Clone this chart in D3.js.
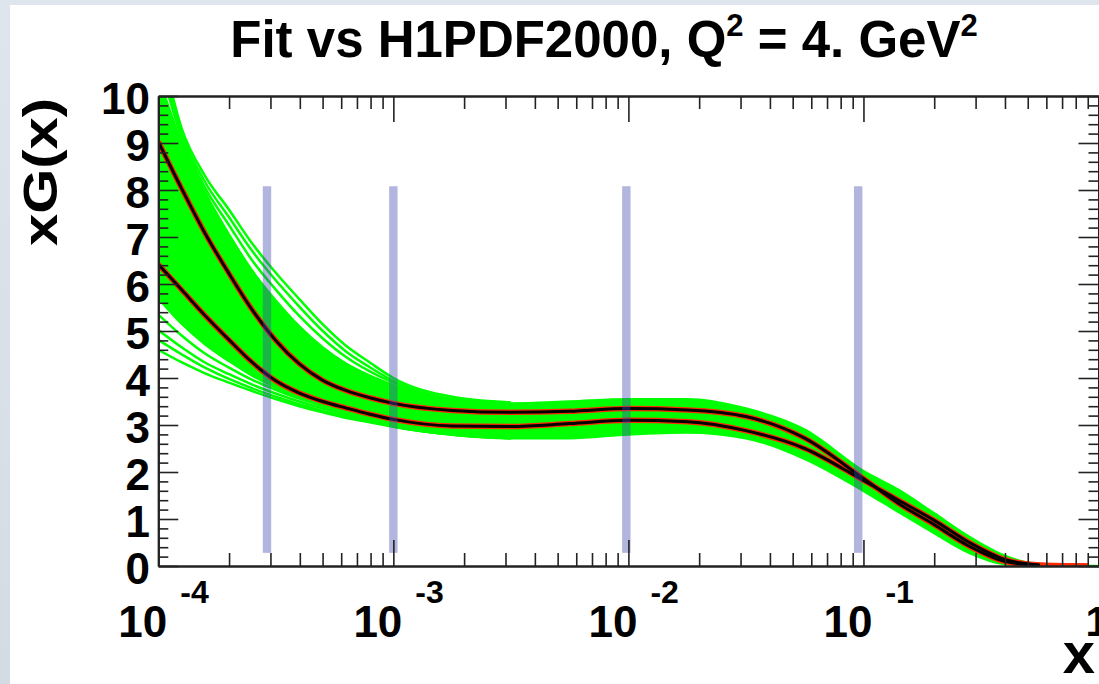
<!DOCTYPE html>
<html><head><meta charset="utf-8">
<script src="https://cdn.jsdelivr.net/npm/d3@7"></script>
<style>html,body{margin:0;padding:0;background:#fff;}svg{display:block;}</style>
</head><body>
<svg id="c" width="1099" height="684"></svg>
<script>
// ---------------- data ----------------
const xGrid = [1e-4, 1.26e-4, 1.58e-4, 2.0e-4, 2.51e-4, 3.16e-4, 3.98e-4, 5.01e-4, 6.31e-4, 7.94e-4,
               1e-3, 1.78e-3, 3.16e-3, 5.62e-3, 1e-2, 1.78e-2, 3.16e-2, 5.62e-2, 0.1, 0.141, 0.2, 0.282, 0.398, 0.562, 0.794, 1.0];
// central fit curves (black) and H1PDF2000 curves (red)
const fitUpper = [9.03, 8.02, 7.08, 6.22, 5.45, 4.80, 4.30, 3.95, 3.73, 3.58, 3.46, 3.31, 3.27, 3.29, 3.35, 3.32, 3.18, 2.72, 1.86, 1.33, 0.88, 0.42, 0.10, 0.01, 0, 0];
const fitLower = [6.42, 5.87, 5.33, 4.81, 4.33, 3.94, 3.68, 3.50, 3.36, 3.23, 3.12, 2.98, 2.97, 3.03, 3.10, 3.07, 2.88, 2.50, 1.82, 1.40, 0.97, 0.50, 0.14, 0.02, 0, 0];
const h1Upper = fitUpper.slice();
const h1Lower = fitLower.slice();
// envelope of the dense bundle of replica curves (green)
const bandTop    = [10.4, 9.0, 7.95, 7.05, 6.28, 5.65, 5.10, 4.65, 4.30, 4.05, 3.85, 3.50, 3.46, 3.50, 3.55, 3.55, 3.35, 2.90, 2.02, 1.62, 1.12, 0.62, 0.22, 0.03, 0, 0];
const bandBottom = [5.70, 5.15, 4.72, 4.36, 4.05, 3.80, 3.60, 3.42, 3.28, 3.17, 3.00, 2.80, 2.72, 2.72, 2.80, 2.84, 2.72, 2.28, 1.60, 1.15, 0.70, 0.28, 0.04, 0, 0, 0];
// individual replica curves outside the dense bundle (low-x fan)
const xFan = [1e-4, 1.26e-4, 1.58e-4, 2.0e-4, 2.51e-4, 3.16e-4, 3.98e-4, 5.01e-4, 6.31e-4, 7.94e-4, 1e-3, 1.78e-3, 3.16e-3];
const fanUp1 = [11.3, 9.3, 8.30, 7.58, 6.86, 6.24, 5.68, 5.14, 4.68, 4.33, 4.00, 3.60, 3.48];
const fanUp2 = [11.0, 9.2, 8.17, 7.42, 6.70, 6.08, 5.52, 5.00, 4.56, 4.23, 3.94, 3.56, 3.47];
const fanUp3 = [10.8, 9.1, 8.05, 7.25, 6.50, 5.88, 5.32, 4.84, 4.44, 4.14, 3.90, 3.53, 3.46];
const fanLo1 = [5.35, 4.90, 4.52, 4.22, 3.96, 3.75, 3.56, 3.40, 3.26, 3.15, 3.00, 2.82, 2.73];
const fanLo2 = [5.02, 4.65, 4.33, 4.08, 3.86, 3.67, 3.50, 3.35, 3.22, 3.12, 2.98, 2.80, 2.72];
const fanLo3 = [4.81, 4.50, 4.22, 3.98, 3.78, 3.60, 3.44, 3.30, 3.18, 3.09, 2.97, 2.80, 2.72];
const fanLo4 = [4.60, 4.33, 4.10, 3.90, 3.72, 3.55, 3.40, 3.27, 3.15, 3.06, 2.96, 2.79, 2.72];
// vertical markers
const markerX = [2.9e-4, 1.0e-3, 0.0098, 0.095];
const markerRange = [0.28, 8.08];
// axes
const yTicks = [0,1,2,3,4,5,6,7,8,9,10];
const yTickLabels = ["0","1","2","3","4","5","6","7","8","9","10"];
const xDecades = [1e-4, 1e-3, 1e-2, 1e-1];
const xExponents = ["-4","-3","-2","-1"];
const titleParts = ["Fit vs H1PDF2000, Q", "2", " = 4. GeV", "2"];

// ---------------- drawing ----------------
const svg = d3.select("#c");
const W = 1099, H = 684;
const L = 158.3, R = 1098.5, T = 96, B = 566;
const x = d3.scaleLog().domain([1e-4, 1]).range([L, R]);
const y = d3.scaleLinear().domain([0, 10]).range([B, T]);

// slide background
const defs = svg.append("defs");
const lg = defs.append("linearGradient").attr("id","bg").attr("x1","0").attr("y1","0").attr("x2","0").attr("y2","1");
lg.append("stop").attr("offset","0").attr("stop-color","#dfe5ec");
lg.append("stop").attr("offset","1").attr("stop-color","#d3dbe4");
svg.append("rect").attr("width",W).attr("height",H).attr("fill","url(#bg)");
svg.append("rect").attr("x",10).attr("y",5).attr("width",W-10).attr("height",H-5).attr("fill","#fff");

defs.append("clipPath").attr("id","clip").append("rect")
  .attr("x",L).attr("y",T).attr("width",R-L).attr("height",B-T);

const plot = svg.append("g").attr("clip-path","url(#clip)");
const line = (xs) => d3.line().x((d,i)=>x(xs[i])).y(d=>y(d)).curve(d3.curveMonotoneX);
const area = d3.area().x((d,i)=>x(xGrid[i])).y0((d,i)=>y(bandBottom[i])).y1(d=>y(d)).curve(d3.curveMonotoneX);

const GREEN = "#00ff00";
plot.append("path").datum(bandTop).attr("d", area).attr("fill", GREEN).attr("stroke", GREEN).attr("stroke-width", 2.5);
[fanUp1, fanUp2, fanUp3, fanLo1, fanLo2, fanLo3, fanLo4].forEach(s => {
  plot.append("path").datum(s).attr("d", line(xFan)).attr("fill","none").attr("stroke",GREEN).attr("stroke-width",2.5);
});

// red H1PDF2000 curves (extend to the full range), black fit curves on top
const xRed = xGrid.slice(0,25).map((v,i)=> i===24 ? 0.9 : v);
[h1Upper, h1Lower].forEach(s => {
  plot.append("path").datum(s.slice(0, 25)).attr("d", line(xRed))
    .attr("fill","none").attr("stroke","#ff2a00").attr("stroke-width",5.5);
});
[fitUpper, fitLower].forEach(s => {
  plot.append("path").datum(s.slice(0, 24)).attr("d", line(xGrid))
    .attr("fill","none").attr("stroke","#000").attr("stroke-width",3);
});

// translucent markers
plot.selectAll("rect.mk").data(markerX).join("rect").attr("class","mk")
  .attr("x", d => x(d) - 4.2).attr("width", 8.4)
  .attr("y", y(markerRange[1])).attr("height", y(markerRange[0]) - y(markerRange[1]))
  .attr("fill", "rgb(62,70,172)").attr("fill-opacity", 0.4);

// axes
const minorX = [];
[1e-4,1e-3,1e-2,1e-1].forEach(d => { for (let k=2;k<=9;k++) minorX.push(d*k); });
const minorY = d3.range(0, 10.001, 0.2).filter(v => Math.abs(v - Math.round(v)) > 1e-6);
const axStyle = g => { g.select(".domain").attr("stroke","#222").attr("stroke-width",2); g.selectAll(".tick line").attr("stroke","#222").attr("stroke-width",1.6); g.selectAll("text").remove(); };

svg.append("g").attr("transform",`translate(0,${B})`).call(d3.axisBottom(x).tickValues(xDecades.concat([1])).tickSize(-26).tickSizeOuter(0)).call(axStyle);
svg.append("g").attr("transform",`translate(0,${B})`).call(d3.axisBottom(x).tickValues(minorX).tickSize(-13).tickSizeOuter(0)).call(axStyle);
svg.append("g").attr("transform",`translate(0,${T})`).call(d3.axisTop(x).tickValues(xDecades).tickSize(-26).tickSizeOuter(0)).call(axStyle);
svg.append("g").attr("transform",`translate(0,${T})`).call(d3.axisTop(x).tickValues(minorX).tickSize(-13).tickSizeOuter(0)).call(axStyle);
svg.append("g").attr("transform",`translate(${L},0)`).call(d3.axisLeft(y).tickValues(yTicks).tickSize(-20).tickSizeOuter(0)).call(axStyle);
svg.append("g").attr("transform",`translate(${L},0)`).call(d3.axisLeft(y).tickValues(minorY).tickSize(-10).tickSizeOuter(0)).call(axStyle);
svg.append("g").attr("transform",`translate(${R},0)`).call(d3.axisRight(y).tickValues(yTicks).tickSize(-20).tickSizeOuter(0)).call(axStyle);
svg.append("g").attr("transform",`translate(${R},0)`).call(d3.axisRight(y).tickValues(minorY).tickSize(-10).tickSizeOuter(0)).call(axStyle);

const FONT = "'Liberation Sans', Arial, Helvetica, sans-serif";
// y tick labels
svg.append("g").selectAll("text").data(yTicks).join("text")
  .attr("x", 150).attr("y", d => y(d) + 18)
  .attr("text-anchor","end").attr("font-family",FONT).attr("font-weight","bold").attr("font-size",44)
  .text((d,i)=>yTickLabels[i]);
// x tick labels
const xl = svg.append("g").attr("font-family",FONT).attr("font-weight","bold").attr("fill","#000");
xDecades.forEach((d,i) => {
  xl.append("text").attr("x", x(d) + 9).attr("y", 637).attr("text-anchor","end").attr("font-size",44).text("10");
  xl.append("text").attr("x", x(d) + 22).attr("y", 603).attr("text-anchor","start").attr("font-size",32).text(xExponents[i]);
});
xl.append("text").attr("x", x(1) - 13).attr("y", 636).attr("text-anchor","start").attr("font-size",42).text("1");
// axis titles
svg.append("text").attr("x", 1095).attr("y", 673).attr("text-anchor","end")
  .attr("font-family",FONT).attr("font-weight","bold").attr("font-size",58).text("x");
svg.append("text").attr("transform","translate(57,172) rotate(-90)").attr("text-anchor","middle")
  .attr("font-family",FONT).attr("font-weight","bold").attr("font-size",49)
  .attr("textLength",148).attr("lengthAdjust","spacingAndGlyphs").text("xG(x)");
// title
const t = svg.append("text").attr("x", 604).attr("y", 57).attr("text-anchor","middle")
  .attr("font-family",FONT).attr("font-weight","bold").attr("font-size",51);
t.append("tspan").text(titleParts[0]);
t.append("tspan").attr("font-size",31).attr("dy",-21).text(titleParts[1]);
t.append("tspan").attr("dy",21).text(titleParts[2]);
t.append("tspan").attr("font-size",31).attr("dy",-21).text(titleParts[3]);
</script>
</body></html>
